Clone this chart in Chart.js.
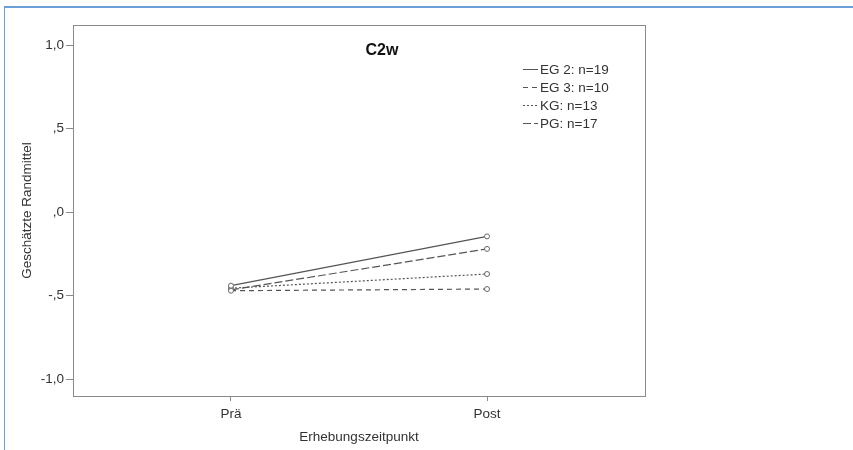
<!DOCTYPE html>
<html lang="de">
<head>
  <meta charset="UTF-8">
  <title>C2w</title>
  <style>
    body { margin: 0; background: #fff; }
    #frame { position: absolute; left: 4px; top: 6px; right: 0; bottom: 0;
             border-top: 2px solid #6a9fd8; border-left: 1px solid #6a9fd8; }
    #c2w { position: absolute; left: 0; top: 0; }
  </style>
</head>
<body>
  <div id="frame"></div>
  <canvas id="c2w" width="853" height="450"></canvas>
  <script src="https://cdn.jsdelivr.net/npm/chart.js"></script>
  <script>
    // Zeitpunkte und Gruppenmittel
    const zeitpunkte = ['Prä', 'Post']
    const gruppen = ['EG 2: n=19', 'EG 3: n=10', 'KG: n=13', 'PG: n=17']
    const eg2 = [-0.44, -0.145]
    const eg3 = [-0.47, -0.46]
    const kg = [-0.455, -0.37]
    const pg = [-0.465, -0.22]
    const yTickValues = [-1, -0.5, 0, 0.5, 1]
    const yTickLabels = ['-1,0', '-,5', ',0', ',5', '1,0']

    const dashes = [[], [5, 4], [2, 2], [8, 3]]
    const serien = [eg2, eg3, kg, pg]

    const FONT = "'Liberation Sans', Arial, sans-serif"
    Chart.defaults.font.family = FONT
    Chart.defaults.color = '#333'

    // Rahmen, Titel und Legende im Diagrammbereich
    const innen = {
      id: 'innen',
      afterDraw(chart) {
        const ctx = chart.ctx
        const a = chart.chartArea
        ctx.save()
        ctx.strokeStyle = '#8a8a8a'
        ctx.lineWidth = 1
        ctx.strokeRect(a.left + 0.5, a.top + 0.5, a.right - a.left, a.bottom - a.top)

        ctx.fillStyle = '#111'
        ctx.font = 'bold 16px ' + FONT
        ctx.textAlign = 'center'
        ctx.textBaseline = 'middle'
        ctx.fillText('C2w', 382, 51)

        ctx.font = '13.5px ' + FONT
        ctx.textAlign = 'left'
        chart.data.datasets.forEach((ds, i) => {
          const y = 69 + i * 18
          ctx.strokeStyle = '#555'
          ctx.setLineDash(ds.borderDash)
          ctx.beginPath()
          ctx.moveTo(523, y + 0.5)
          ctx.lineTo(538, y + 0.5)
          ctx.stroke()
          ctx.setLineDash([])
          ctx.fillStyle = '#333'
          ctx.fillText(ds.label, 540, y + 1)
        })
        ctx.restore()
      }
    }

    new Chart(document.getElementById('c2w'), {
      type: 'line',
      data: {
        datasets: serien.map((werte, i) => ({
          label: gruppen[i],
          data: werte.map((v, k) => ({ x: k, y: v })),
          borderColor: '#555',
          borderWidth: 1.2,
          borderDash: dashes[i],
          pointRadius: 2.5,
          pointBorderWidth: 1,
          pointBorderColor: '#666',
          pointBackgroundColor: '#fff',
          fill: false
        }))
      },
      options: {
        responsive: false,
        animation: false,
        layout: { padding: { top: 25, right: 208, left: 0, bottom: 0 } },
        plugins: { legend: { display: false }, tooltip: { enabled: false } },
        scales: {
          x: {
            type: 'linear',
            min: -0.617,
            max: 1.617,
            afterBuildTicks: s => { s.ticks = zeitpunkte.map((z, i) => ({ value: i })) },
            afterFit: s => { s.height = 54 },
            ticks: {
              callback: v => zeitpunkte[v],
              font: { size: 13.5 },
              padding: 5,
              maxRotation: 0
            },
            grid: { drawOnChartArea: false, tickLength: 5, color: '#8a8a8a' },
            border: { color: '#8a8a8a' },
            title: {
              display: true,
              text: 'Erhebungszeitpunkt',
              font: { size: 13.5 },
              padding: { top: 0, bottom: 5 }
            }
          },
          y: {
            min: -1.10,
            max: 1.12,
            afterBuildTicks: s => { s.ticks = yTickValues.map(v => ({ value: v })) },
            afterFit: s => { s.width = 73 },
            ticks: {
              callback: v => yTickLabels[yTickValues.indexOf(v)],
              font: { size: 13.5 },
              padding: 2
            },
            grid: { drawOnChartArea: false, tickLength: 7, color: '#8a8a8a' },
            border: { color: '#8a8a8a' },
            title: {
              display: true,
              text: 'Geschätzte Randmittel',
              font: { size: 13.5 },
              padding: { top: 19, bottom: 0 }
            }
          }
        }
      },
      plugins: [innen]
    })
  </script>
</body>
</html>
